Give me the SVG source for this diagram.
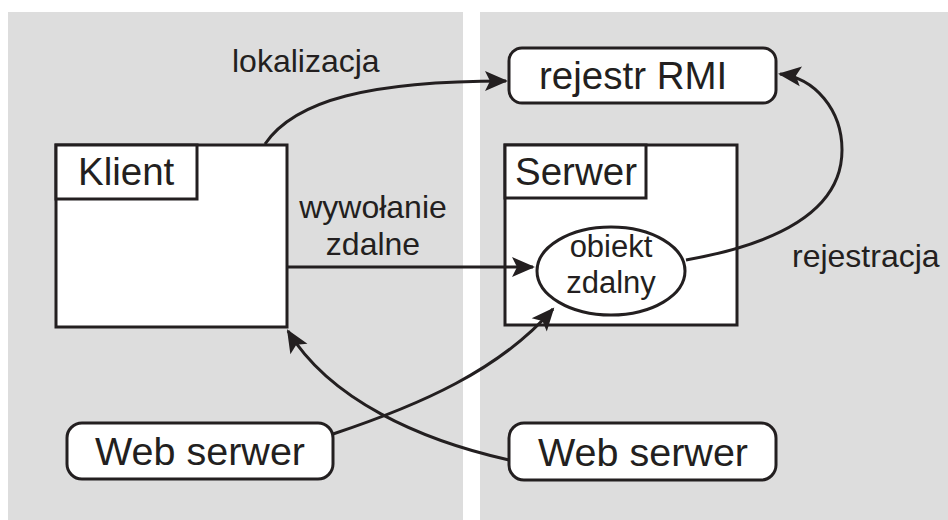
<svg xmlns="http://www.w3.org/2000/svg" width="948" height="520" viewBox="0 0 948 520">
<style>
.bg{fill:#dddddd;stroke:none}
.box{fill:#ffffff;stroke:#231f20;stroke-width:3}
.con{fill:none;stroke:#231f20;stroke-width:3}
text{font-family:"Liberation Sans",Arial,sans-serif;fill:#231f20}
.big{font-size:38.5px}
.web{font-size:39.5px}
.mid{font-size:32px}
.obj{font-size:31px}
</style>
<defs>
<marker id="arr" viewBox="-24 -12 28 24" refX="0" refY="0" markerWidth="28" markerHeight="24" markerUnits="userSpaceOnUse" orient="auto">
<path d="M2,0 L-21,-10 L-16,0 L-21,10 Z" fill="#231f20"/>
</marker>
</defs>
<rect class="bg" x="8" y="12" width="455" height="508"/>
<rect class="bg" x="480" y="12" width="468" height="508"/>

<g id="rejestr">
<rect class="box" x="509" y="48" width="267" height="55" rx="13"/>
<text class="big" x="539" y="89">rejestr RMI</text>
</g>
<g id="klient">
<rect class="box" x="56" y="145" width="231" height="182"/>
<rect class="box" x="56" y="145" width="141" height="54"/>
<text class="big" x="78" y="185">Klient</text>
</g>
<g id="serwer">
<rect class="box" x="505" y="145" width="232" height="180"/>
<rect class="box" x="505" y="145" width="141" height="53"/>
<text class="big" x="515" y="185">Serwer</text>
</g>
<g id="obiekt">
<ellipse class="box" cx="611" cy="271" rx="74" ry="44"/>
<text class="obj" x="611" y="257" text-anchor="middle">obiekt</text>
<text class="obj" x="611" y="293" text-anchor="middle">zdalny</text>
</g>
<g id="web1">
<rect class="box" x="67" y="423" width="266" height="56" rx="15"/>
<text class="web" x="95" y="465">Web serwer</text>
</g>
<g id="web2">
<rect class="box" x="509" y="423" width="267" height="57" rx="15"/>
<text class="web" x="538" y="466">Web serwer</text>
</g>

<g id="connectors">
<path class="con" d="M265,144 C295,100 370,81 506,81" marker-end="url(#arr)"/>
<path class="con" d="M287,267 L533,267" marker-end="url(#arr)"/>
<path class="con" d="M686,260 C770,245 842,215 842,150 C842,110 815,78 780,74" marker-end="url(#arr)"/>
<path class="con" d="M333,434 C420,405 500,370 553,309" marker-end="url(#arr)"/>
<path class="con" d="M509,460 C420,440 330,400 288,331" marker-end="url(#arr)"/>
</g>

<g id="labels">
<text class="mid" x="232" y="72">lokalizacja</text>
<text class="mid" x="373" y="218" text-anchor="middle">wywołanie</text>
<text class="mid" x="373" y="255" text-anchor="middle">zdalne</text>
<text class="mid" x="792" y="267">rejestracja</text>
</g>
</svg>
